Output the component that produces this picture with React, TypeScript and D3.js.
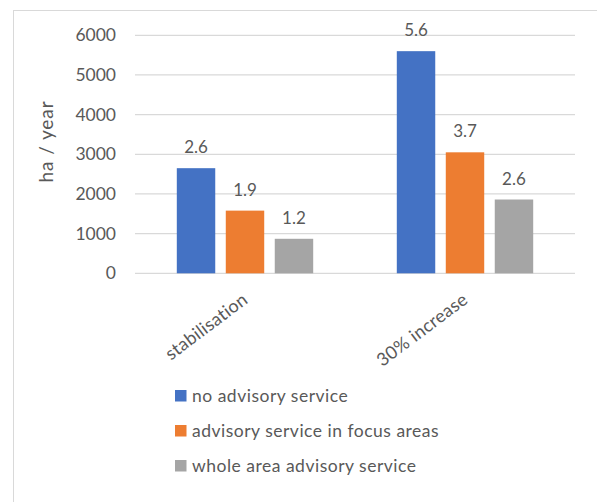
import React from "react";
import * as d3 from "d3";

const categories = ["stabilisation", "30% increase"];
const seriesNames = ["no advisory service", "advisory service in focus areas", "whole area advisory service"];
const seriesColors = ["#4472C4", "#ED7D31", "#A5A5A5"];
const noAdvisory = [2650, 5600];
const focusAreas = [1580, 3050];
const wholeArea = [870, 1860];
const noAdvisoryLabels = ["2.6", "5.6"];
const focusAreasLabels = ["1.9", "3.7"];
const wholeAreaLabels = ["1.2", "2.6"];
const yTicks = [0, 1000, 2000, 3000, 4000, 5000, 6000];

const W = 597;
const H = 502;
const plot = { left: 135, right: 575, top: 35.3, bottom: 273.3 };
const font = "Lato, 'Noto Sans', sans-serif";
const textColor = "#595959";

export default function App() {
  const values = [noAdvisory, focusAreas, wholeArea];
  const labels = [noAdvisoryLabels, focusAreasLabels, wholeAreaLabels];
  const x0 = d3.scaleBand<string>().domain(categories).range([plot.left, plot.right]).paddingInner(0.38).paddingOuter(0.19);
  const x1 = d3.scaleBand<number>().domain([0, 1, 2]).range([0, x0.bandwidth()]).paddingInner(0.215);
  const y = d3.scaleLinear().domain([0, 6000]).range([plot.bottom, plot.top]);

  return (
    <svg width={W} height={H} style={{ position: "absolute", left: 0, top: 0, background: "#fff" }} fontFamily={font}>
      <rect x={0} y={0} width={W} height={H} fill="#fff" />
      <rect x={13.5} y={10.5} width={W + 20} height={H + 20} fill="none" stroke="#d9d9d9" strokeWidth={1} />
      {yTicks.map((t) => (
        <g key={t}>
          <line x1={plot.left} x2={plot.right} y1={y(t)} y2={y(t)} stroke="#d9d9d9" strokeWidth={1.2} />
          <text x={116} y={y(t)} dy="0.35em" textAnchor="end" fontSize={17.5} fill={textColor}>{t}</text>
        </g>
      ))}
      <text transform={`translate(53,141.5) rotate(-90)`} textAnchor="middle" fontSize={19} letterSpacing={0.9} fill={textColor}>ha / year</text>
      {categories.map((c, ci) => (
        <g key={c}>
          {values.map((s, si) => {
            const bx = (x0(c) as number) + (x1(si) as number);
            const bw = x1.bandwidth();
            return (
              <g key={si}>
                <rect x={bx} y={y(s[ci])} width={bw} height={y(0) - y(s[ci])} fill={seriesColors[si]} />
                <text x={bx + bw / 2} y={y(s[ci]) - 15} textAnchor="middle" fontSize={17} fill={textColor}>{labels[si][ci]}</text>
              </g>
            );
          })}
          <text
            transform={`translate(${(x0(c) as number) + x0.bandwidth() / 2 + 4},${302}) rotate(-37)`}
            textAnchor="end"
            fontSize={18}
            letterSpacing={0.3}
            fill={textColor}
          >
            {c}
          </text>
        </g>
      ))}
      {seriesNames.map((n, i) => (
        <g key={n} transform={`translate(175,${390 + i * 35})`}>
          <rect x={0} y={0} width={11.5} height={11.5} fill={seriesColors[i]} />
          <text x={17} y={6} dy="0.36em" fontSize={17.5} letterSpacing={0.5} fill={textColor}>{n}</text>
        </g>
      ))}
    </svg>
  );
}
